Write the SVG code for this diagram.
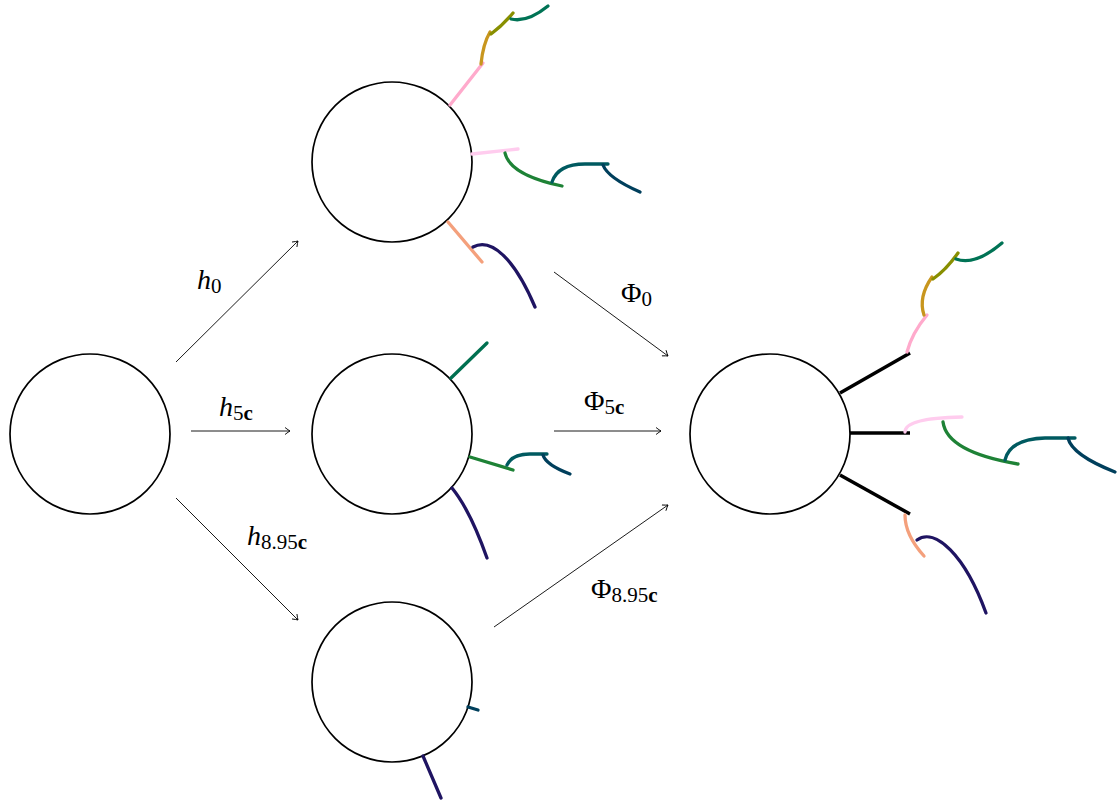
<svg xmlns="http://www.w3.org/2000/svg" width="1119" height="805" viewBox="0 0 1119 805">
<defs>
<marker id="ah" viewBox="-6 -4 7 8" markerWidth="7" markerHeight="8" refX="0" refY="0" orient="auto" markerUnits="userSpaceOnUse">
<path d="M-5,-3.5 Q-1.5,-0.8 0,0 Q-1.5,0.8 -5,3.5" fill="none" stroke="#000" stroke-width="0.9"/>
</marker>
</defs>
<style>
.node{fill:#fff;stroke:#000;stroke-width:1.7}
.edge{fill:none;stroke:#000;stroke-width:0.9;marker-end:url(#ah)}
.b{fill:none;stroke-width:3.3;stroke-linecap:round}
.k{fill:none;stroke:#000;stroke-width:3.5}
.lbl{font-family:"Liberation Serif","DejaVu Serif",serif;font-size:28px;fill:#000}
.it{font-style:italic}
.sub{font-size:21px}
.bf{font-weight:bold}
</style>
<rect width="1119" height="805" fill="#fff"/>
<g id="connectors">
<line class="edge" x1="176" y1="362" x2="298" y2="241"/>
<line class="edge" x1="191" y1="431" x2="290" y2="431"/>
<line class="edge" x1="176" y1="498" x2="298" y2="620"/>
<line class="edge" x1="554" y1="272" x2="668" y2="356"/>
<line class="edge" x1="554" y1="431" x2="661" y2="431"/>
<line class="edge" x1="494" y1="627" x2="668" y2="505"/>
<text class="lbl it" font-family="'Liberation Serif', serif" x="197" y="289">h<tspan class="sub" font-style="normal" dy="4">0</tspan></text>
<text class="lbl it" font-family="'Liberation Serif', serif" x="219" y="416">h<tspan class="sub" font-style="normal" dy="4">5<tspan class="bf">c</tspan></tspan></text>
<text class="lbl it" font-family="'Liberation Serif', serif" x="247" y="545">h<tspan class="sub" font-style="normal" dy="4">8.95<tspan class="bf">c</tspan></tspan></text>
<text class="lbl" font-family="'Liberation Serif', serif" x="621" y="302">Φ<tspan class="sub" dy="4">0</tspan></text>
<text class="lbl" font-family="'Liberation Serif', serif" x="584" y="410">Φ<tspan class="sub" dy="4">5<tspan class="bf">c</tspan></tspan></text>
<text class="lbl" font-family="'Liberation Serif', serif" x="591" y="598">Φ<tspan class="sub" dy="4">8.95<tspan class="bf">c</tspan></tspan></text>
</g>
<g id="node-left"><circle class="node" cx="90" cy="434" r="80"/></g>
<g id="node-top">
<circle class="node" cx="392" cy="162" r="80"/>
<path class="b" stroke="#ffaacc" d="M450,105 L483,63"/>
<path class="b" stroke="#c8961e" d="M481,64 Q483,44 490,32"/>
<path class="b" stroke="#888f00" d="M491,34 Q503,25 513,13"/>
<path class="b" stroke="#007355" d="M511,19 Q527,23 548,6"/>
<path class="b" stroke="#ffccee" d="M472,154 L518,149"/>
<path class="b" stroke="#1e8236" d="M505,153 Q510,175 562,186"/>
<path class="b" stroke="#005a60" d="M552,182 Q558,164 585,164 L608,164"/>
<path class="b" stroke="#003f5c" d="M603,165 Q608,178 640,192"/>
<path class="b" stroke="#f4a07c" d="M448,222 L482,262"/>
<path class="b" stroke="#1f1462" d="M473,247 C492,237 515,260 535,307"/>
</g>
<g id="node-middle">
<circle class="node" cx="392" cy="434" r="80"/>
<path class="b" stroke="#007050" d="M451,378 L487,343"/>
<path class="b" stroke="#1e8236" d="M470,457 L513,470"/>
<path class="b" stroke="#005a60" d="M507,465 Q512,454 530,454 L547,454"/>
<path class="b" stroke="#003f5c" d="M543,455 Q546,465 570,474"/>
<path class="b" stroke="#1f1462" d="M452,488 Q470,510 487,558"/>
</g>
<g id="node-bottom">
<circle class="node" cx="392" cy="682" r="80"/>
<path class="b" stroke="#003f5c" d="M468,707 L478,710"/>
<path class="b" stroke="#1f1462" d="M423,756 L441,798"/>
</g>
<g id="node-right">
<circle class="node" cx="770" cy="434" r="80"/>
<path class="k" d="M840,393 L910,353"/>
<path class="k" d="M850,433 L910,433"/>
<path class="k" d="M840,475 L910,514"/>
<path class="b" stroke="#ffaacc" d="M907,352 Q912,333 927,315"/>
<path class="b" stroke="#c8961e" d="M924,315 Q918,297 932,277"/>
<path class="b" stroke="#888f00" d="M933,279 Q946,270 958,253"/>
<path class="b" stroke="#007355" d="M956,259 Q975,266 1002,243"/>
<path class="b" stroke="#ffccee" d="M905,432 Q905,418 962,417"/>
<path class="b" stroke="#1e8236" d="M943,422 Q947,452 1018,464"/>
<path class="b" stroke="#005a60" d="M1005,460 Q1010,439 1045,438 L1075,438"/>
<path class="b" stroke="#003f5c" d="M1068,438 Q1072,455 1115,472"/>
<path class="b" stroke="#f4a07c" d="M905,515 Q905,535 924,556"/>
<path class="b" stroke="#1f1462" d="M917,540 C935,527 965,555 986,613"/>
</g>
</svg>
